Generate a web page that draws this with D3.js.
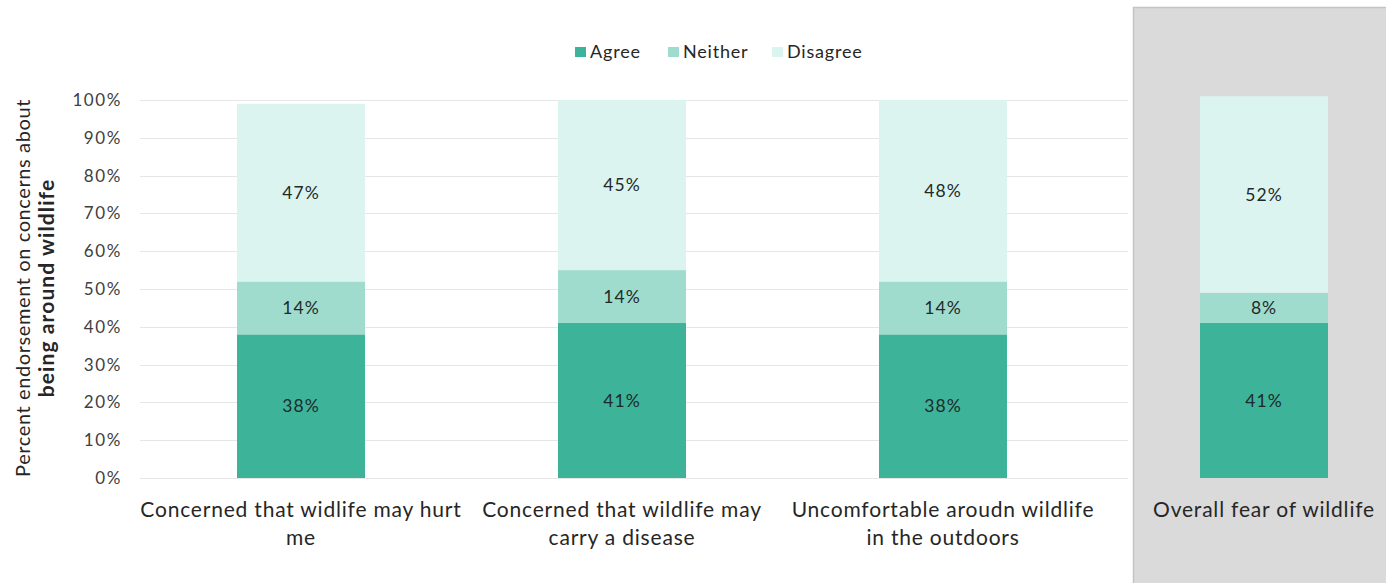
<!DOCTYPE html>
<html>
<head>
<meta charset="utf-8">
<script src="https://cdn.jsdelivr.net/npm/d3@7"></script>
<style>
  html, body { margin: 0; padding: 0; background: #ffffff; }
  svg { display: block; font-family: Lato, "Open Sans", sans-serif; }
</style>
</head>
<body>
<svg id="chart" width="1386" height="583"></svg>
<script>
// Survey items (two-line category labels)
const categories = [
  ["Concerned that widlife may hurt", "me"],
  ["Concerned that wildlife may", "carry a disease"],
  ["Uncomfortable aroudn wildlife", "in the outdoors"],
  ["Overall fear of wildlife"]
];
const seriesNames = ["Agree", "Neither", "Disagree"];
const agree    = [38, 41, 38, 41];
const neither  = [14, 14, 14, 8];
const disagree = [47, 45, 48, 52];
const yTicks = [0, 10, 20, 30, 40, 50, 60, 70, 80, 90, 100];
const colors = ["#3db39a", "#a0dccd", "#dcf4ef"];

const svg = d3.select("#chart");

// Highlight panel behind the overall item
svg.append("rect")
  .attr("x", 1133.5).attr("y", 7.5).attr("width", 260).attr("height", 590)
  .attr("fill", "#dadada").attr("stroke", "#c4c4c4").attr("stroke-width", 1.5);

const keys = categories.map((c, i) => i);
const x = d3.scalePoint().domain(keys).range([301, 1264]);
const y = d3.scaleLinear().domain([0, 100]).range([478, 100]);
const barW = 128;

// Gridlines
svg.append("g").selectAll("line").data(yTicks).join("line")
  .attr("x1", 140).attr("x2", 1128)
  .attr("y1", d => Math.round(y(d)) + 0.5).attr("y2", d => Math.round(y(d)) + 0.5)
  .attr("stroke", "#e6e6e6").attr("stroke-width", 1);

// Y axis tick labels
const yAxis = d3.axisLeft(y).tickValues(yTicks).tickFormat(d => d + "%").tickSize(0).tickPadding(0);
const gy = svg.append("g").attr("transform", "translate(122,0)").call(yAxis);
gy.select(".domain").remove();
gy.selectAll("text").attr("font-size", 17).attr("letter-spacing", 1.6).attr("fill", "#404040")
  .attr("font-family", "Lato, sans-serif");

// Stacked data
const rows = keys.map(i => ({ i, Agree: agree[i], Neither: neither[i], Disagree: disagree[i] }));
const stack = d3.stack().keys(seriesNames)(rows);

const layers = svg.append("g").selectAll("g").data(stack).join("g")
  .attr("fill", (d, k) => colors[k]);
layers.selectAll("rect").data(d => d).join("rect")
  .attr("x", d => x(d.data.i) - barW / 2)
  .attr("width", barW)
  .attr("y", d => y(d[1]))
  .attr("height", d => y(d[0]) - y(d[1]));

// Value labels
const labels = svg.append("g").selectAll("g").data(stack).join("g");
labels.selectAll("text").data(d => d.map(v => ({ v, key: d.key }))).join("text")
  .attr("x", d => x(d.v.data.i))
  .attr("y", d => (y(d.v[0]) + y(d.v[1])) / 2)
  .attr("dy", "0.35em")
  .attr("text-anchor", "middle")
  .attr("font-size", 17.5)
  .attr("letter-spacing", 1)
  .attr("fill", "#1e2a2a")
  .text(d => d.v.data[d.key] + "%");

// Category labels
const cat = svg.append("g").selectAll("text").data(categories).join("text")
  .attr("x", (d, i) => x(i))
  .attr("y", 517)
  .attr("text-anchor", "middle")
  .attr("font-size", 21)
  .attr("letter-spacing", 0.8)
  .attr("fill", "#262626");
cat.selectAll("tspan").data(d => d).join("tspan")
  .attr("x", function () { return d3.select(this.parentNode).attr("x"); })
  .attr("dy", (d, j) => j === 0 ? 0 : 28)
  .text(d => d);

// Axis title
const title = svg.append("text")
  .attr("transform", "translate(0,288) rotate(-90)")
  .attr("text-anchor", "middle")
  .attr("font-size", 20)
  .attr("letter-spacing", 0.6)
  .attr("fill", "#262626");
title.append("tspan").attr("x", 0).attr("y", 30).text("Percent endorsement on concerns about");
title.append("tspan").attr("x", 0).attr("y", 54).attr("font-weight", "bold")
  .attr("font-size", 21).attr("letter-spacing", 1.1).text("being around wildlife");

// Legend
const legendX = [575, 668, 772];
const lg = svg.append("g").selectAll("g").data(seriesNames).join("g")
  .attr("transform", (d, k) => `translate(${legendX[k]},52)`);
lg.append("rect").attr("x", 0).attr("y", -5).attr("width", 11).attr("height", 10)
  .attr("fill", (d, k) => colors[k]);
lg.append("text").attr("x", 15).attr("dy", "0.35em").attr("font-size", 18)
  .attr("letter-spacing", 0.8)
  .attr("fill", "#262626").text(d => d);
</script>
</body>
</html>
